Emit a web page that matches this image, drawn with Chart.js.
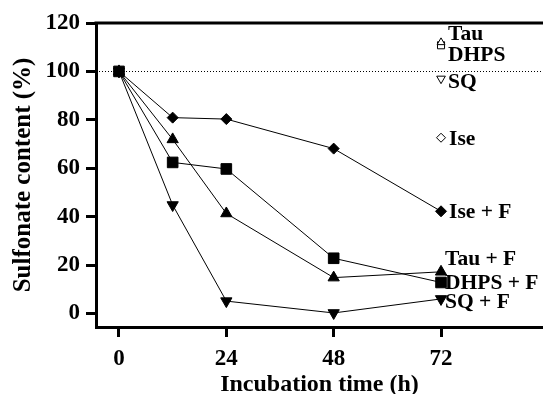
<!DOCTYPE html>
<html>
<head>
<meta charset="utf-8">
<script src="https://cdn.jsdelivr.net/npm/chart.js@4"></script>
<style>
  html, body { margin: 0; padding: 0; background: #fff; }
  #c { display: block; }
</style>
</head>
<body>
<canvas id="c" width="543" height="394"></canvas>
<script>
// ---- data ----
const times = [0, 12, 24, 48, 72];
const iseF  = [100, 80.9, 80.3, 68.1, 42.2];
const dhpsF = [100, 62.4, 59.7, 22.8, 12.8];
const tauF  = [100, 71.9, 41.3, 14.8, 17.2];
const sqF   = [100, 44.8, 5.1, 0.2, 6.0];
const controlTime = 72;
const tauCtrl  = 112;
const dhpsCtrl = 110.8;
const sqCtrl   = 97;
const iseCtrl  = 72.6;
const referenceLevel = 100;
const xTicks = [0, 24, 48, 72];
const yTicks = [0, 20, 40, 60, 80, 100, 120];
const xTitle = 'Incubation time (h)';
const yTitle = 'Sulfonate content (%)';
const seriesNames = ['Ise + F', 'DHPS + F', 'Tau + F', 'SQ + F', 'Tau', 'DHPS', 'SQ', 'Ise'];

const pts = (vals) => times.map((t, i) => ({ x: t, y: vals[i] }));
const one = (v) => [{ x: controlTime, y: v }];

const FONT = '"Liberation Serif", "Times New Roman", serif';

const lineStyle = (label, data, style, radius, rotation) => ({
  label, data, showLine: true,
  borderColor: '#000', borderWidth: 1,
  pointStyle: style, pointRadius: radius, pointHoverRadius: radius,
  pointRotation: rotation || 0,
  pointBackgroundColor: '#000', pointBorderColor: '#000', pointBorderWidth: 1,
  clip: false
});
const openStyle = (label, data, style, radius, rotation) => ({
  label, data, showLine: false,
  pointStyle: style, pointRadius: radius, pointHoverRadius: radius,
  pointRotation: rotation || 0,
  pointBackgroundColor: '#fff', pointBorderColor: '#000', pointBorderWidth: 1,
  clip: false
});

// label placements: [dataset index, x offset px, y offset px]
const labelPlacement = [
  [0, 8, 1], [1, 4, 1], [2, 4, -12], [3, 4, 4],
  [4, 7, -8], [5, 7, 10], [6, 7, 4], [7, 8, 2]
];

const overlay = {
  id: 'overlay',
  beforeDatasetsDraw(chart) {
    const { ctx, chartArea, scales } = chart;
    const y = scales.y.getPixelForValue(referenceLevel);
    ctx.save();
    ctx.strokeStyle = '#000';
    ctx.lineWidth = 1;
    ctx.setLineDash([1, 2]);
    ctx.beginPath();
    ctx.moveTo(chartArea.left, Math.round(y) + 0.5);
    ctx.lineTo(chartArea.right, Math.round(y) + 0.5);
    ctx.stroke();
    ctx.setLineDash([]);
    ctx.lineWidth = 3;
    ctx.beginPath();
    ctx.moveTo(chartArea.left - 1.5, chartArea.top);
    ctx.lineTo(chartArea.right, chartArea.top);
    ctx.stroke();
    ctx.restore();
  },
  afterDatasetsDraw(chart) {
    const { ctx, scales } = chart;
    ctx.save();
    ctx.fillStyle = '#000';
    ctx.font = 'bold 21.5px ' + FONT;
    ctx.textAlign = 'left';
    ctx.textBaseline = 'middle';
    labelPlacement.forEach(([di, dx, dy]) => {
      const ds = chart.data.datasets[di];
      const p = ds.data[ds.data.length - 1];
      const px = scales.x.getPixelForValue(p.x);
      const py = scales.y.getPixelForValue(p.y);
      ctx.fillText(ds.label, px + dx, py + dy);
    });
    ctx.restore();
  }
};

new Chart(document.getElementById('c'), {
  type: 'scatter',
  data: {
    datasets: [
      lineStyle(seriesNames[0], pts(iseF), 'rectRot', 5.5),
      lineStyle(seriesNames[1], pts(dhpsF), 'rect', 7.5),
      lineStyle(seriesNames[2], pts(tauF), 'triangle', 6.5),
      lineStyle(seriesNames[3], pts(sqF), 'triangle', 6.5, 180),
      openStyle(seriesNames[4], one(tauCtrl), 'triangle', 4.5),
      openStyle(seriesNames[5], one(dhpsCtrl), 'rect', 5),
      openStyle(seriesNames[6], one(sqCtrl), 'triangle', 5, 180),
      openStyle(seriesNames[7], one(iseCtrl), 'rectRot', 4.5)
    ]
  },
  options: {
    responsive: false,
    animation: false,
    devicePixelRatio: 1,
    layout: { autoPadding: false, padding: { top: 23, right: 0, bottom: 0, left: 0 } },
    plugins: { legend: { display: false }, tooltip: { enabled: false } },
    scales: {
      x: {
        type: 'linear', position: 'bottom',
        min: -5.14, max: 94.8,
        afterBuildTicks: (s) => { s.ticks = xTicks.map(v => ({ value: v })); },
        afterFit: (s) => { s.height = 67; s.paddingLeft = 0; s.paddingRight = 0; },
        grid: { display: true, drawOnChartArea: false, drawTicks: true, tickLength: 10, tickWidth: 3, tickColor: '#000' },
        border: { display: true, color: '#000', width: 3 },
        ticks: { color: '#000', padding: 8, maxRotation: 0, autoSkip: false,
                 font: { family: FONT, size: 23, weight: 'bold' } },
        title: { display: true, text: xTitle, color: '#000', padding: 0,
                 font: { family: FONT, size: 24, weight: 'bold', lineHeight: 0.8 } }
      },
      y: {
        type: 'linear', position: 'left',
        min: -5.6, max: 120,
        afterBuildTicks: (s) => { s.ticks = yTicks.map(v => ({ value: v })); },
        afterFit: (s) => { s.width = 96; s.paddingTop = 0; s.paddingBottom = 0; },
        grid: { display: true, drawOnChartArea: false, drawTicks: true, tickLength: 10, tickWidth: 3, tickColor: '#000' },
        border: { display: true, color: '#000', width: 3 },
        ticks: { color: '#000', padding: 6, autoSkip: false,
                 font: { family: FONT, size: 23, weight: 'bold' } },
        title: { display: true, text: yTitle, color: '#000', padding: { top: 11, bottom: 0 },
                 font: { family: FONT, size: 25, weight: 'bold', lineHeight: 1 } }
      }
    }
  },
  plugins: [overlay]
});
</script>
</body>
</html>
